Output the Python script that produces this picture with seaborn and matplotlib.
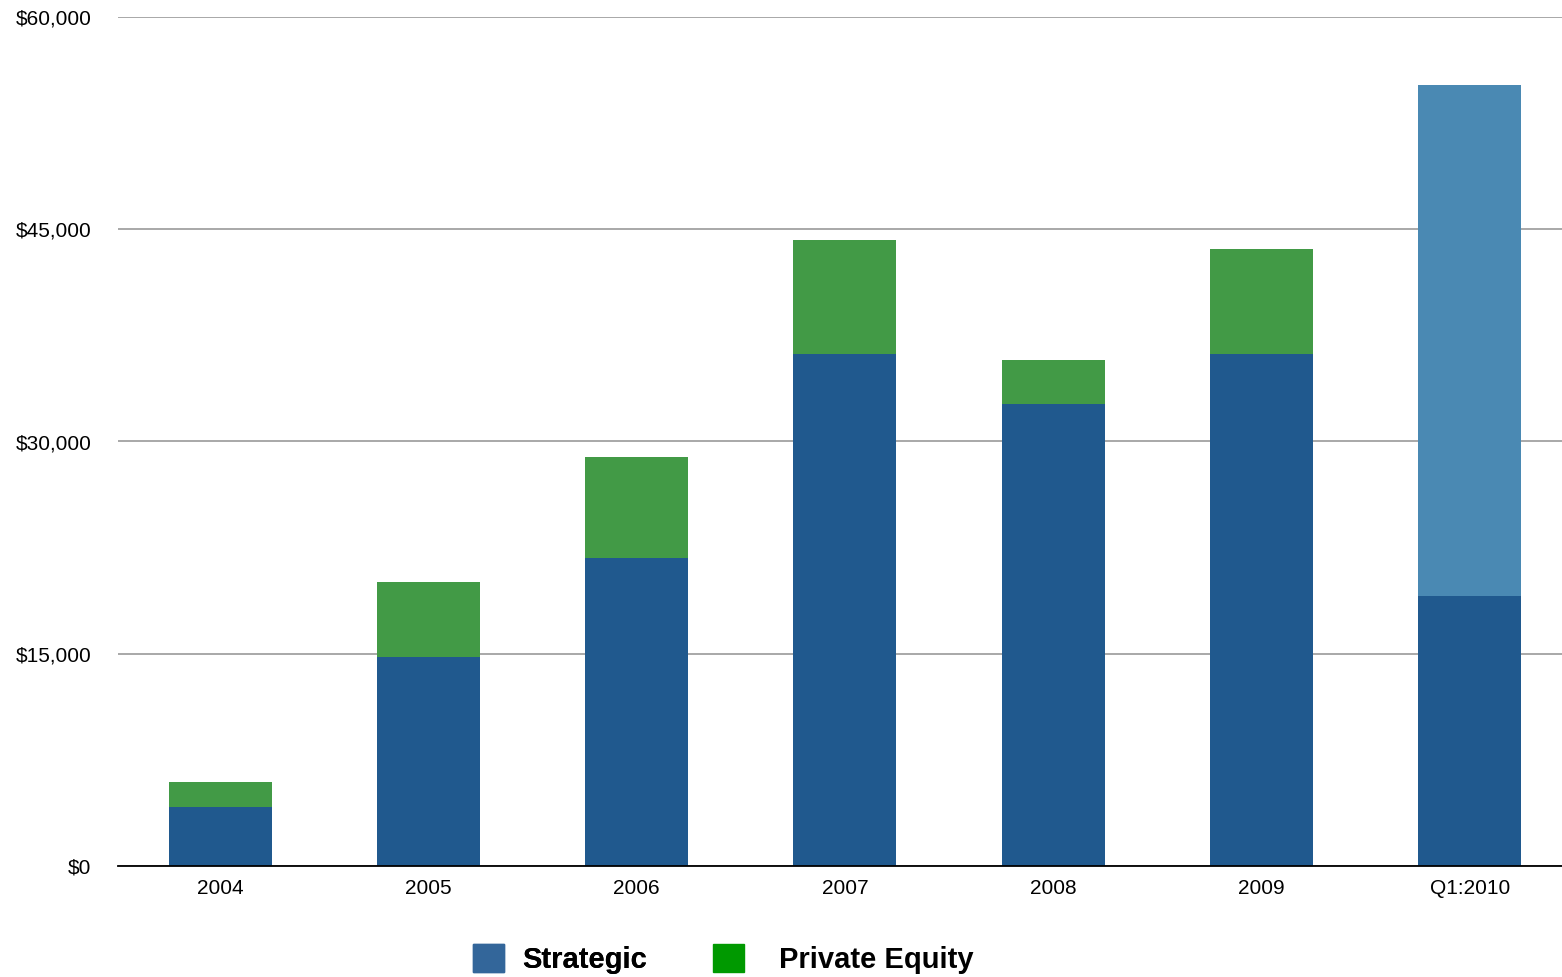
import matplotlib
matplotlib.use("Agg")
import matplotlib.pyplot as plt
import matplotlib.patches as mpatches
import numpy as np
import pandas as pd
import seaborn as sns

periods = ["2004", "2005", "2006", "2007", "2008", "2009", "Q1:2010"]
strategic = [4170, 14770, 21770, 36180, 32650, 36180, 19080]
private_equity = [1770, 5300, 7140, 8060, 3110, 7420, 0]
q1_other = [0, 0, 0, 0, 0, 0, 36110]

yticks = [0, 15000, 30000, 45000, 60000]
ytick_labels = ["$0", "$15,000", "$30,000", "$45,000", "$60,000"]

sns.set_style("white")
plt.rcParams["font.family"] = ["Liberation Sans", "DejaVu Sans"]
plt.rcParams["text.color"] = "black"
plt.rcParams["xtick.color"] = "black"
plt.rcParams["ytick.color"] = "black"

df = pd.DataFrame({"period": periods, "strategic": strategic,
                   "pe": private_equity, "other": q1_other})
df["top2"] = df["strategic"] + df["pe"]
df["top3"] = df["top2"] + df["other"]

fig = plt.figure(figsize=(15.62, 9.77), dpi=100)
ax = fig.add_axes([118 / 1562, 1 - 866 / 977, 1 - 118 / 1562, (866 - 17) / 977])

# draw from the tallest stack down so each layer covers the one below
bar_kw = dict(saturation=1, width=0.495, ax=ax, zorder=3, linewidth=0, edgecolor="none")
sns.barplot(data=df, x="period", y="top3", color="#4a89b3", **bar_kw)
sns.barplot(data=df, x="period", y="top2", color="#429a46", **bar_kw)
sns.barplot(data=df, x="period", y="strategic", color="#20598e", **bar_kw)

ax.set_xlim(-0.49, 6.443)
ax.set_ylim(0, 60000)
ax.set_yticks(yticks)
ax.set_yticklabels(ytick_labels)
ax.set_xlabel("")
ax.set_ylabel("")
ax.yaxis.grid(True, color="#a8a8a8", linewidth=1.4, zorder=0)
ax.set_axisbelow(True)
for s in ["top", "right", "left"]:
    ax.spines[s].set_visible(False)
ax.spines["bottom"].set_color("black")
ax.spines["bottom"].set_linewidth(1.3)
ax.spines["bottom"].set_zorder(5)
ax.tick_params(axis="y", length=0, pad=19, labelsize=15)
ax.tick_params(axis="x", length=0, pad=9, labelsize=15)

leg_kw = dict(loc="center left", frameon=False, prop={"weight": "bold", "size": 21},
              handlelength=1.05, handleheight=1.1, borderpad=0, borderaxespad=0)
leg1 = fig.legend(handles=[mpatches.Patch(color="#33669a", label="Strategic")],
                  bbox_to_anchor=(473 / 1562, 1 - 959 / 977), handletextpad=0.65, **leg_kw)
fig.legend(handles=[mpatches.Patch(color="#009900", label="Private Equity")],
           bbox_to_anchor=(713 / 1562, 1 - 959 / 977), handletextpad=1.2, **leg_kw)
fig.add_artist(leg1)

fig.savefig("out.png", dpi=100)
